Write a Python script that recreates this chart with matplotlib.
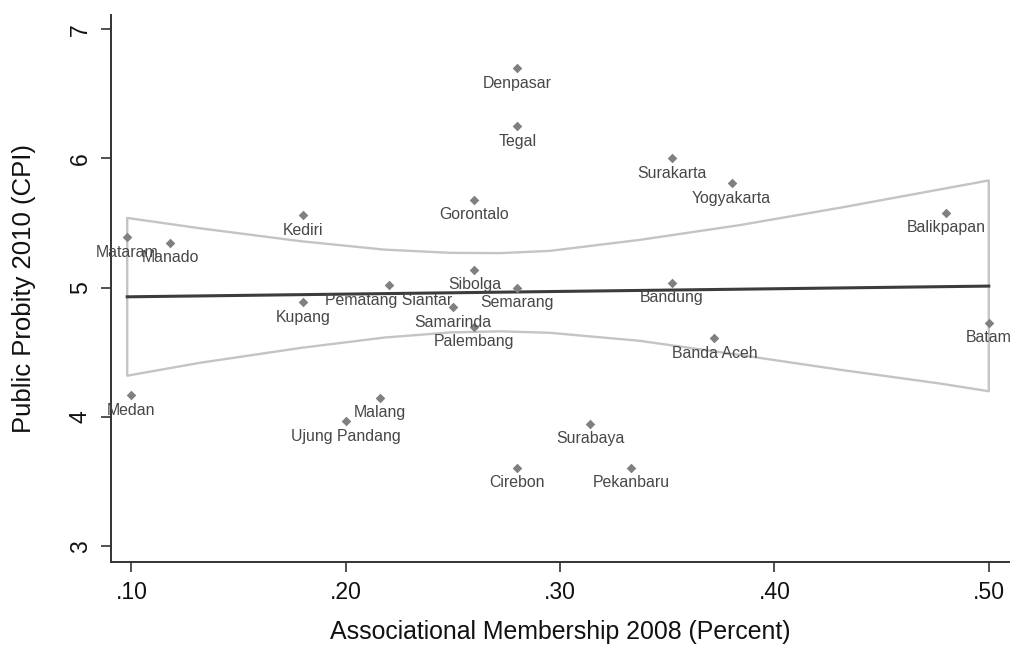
import numpy as np
import matplotlib
matplotlib.use("Agg")
import matplotlib.pyplot as plt

plt.rcParams["font.family"] = ["Liberation Sans", "DejaVu Sans"]

cities = ["Denpasar", "Tegal", "Surakarta", "Yogyakarta", "Gorontalo", "Kediri",
          "Balikpapan", "Mataram", "Manado", "Sibolga", "Bandung", "Pematang Siantar",
          "Semarang", "Kupang", "Samarinda", "Batam", "Palembang", "Banda Aceh",
          "Medan", "Malang", "Ujung Pandang", "Surabaya", "Cirebon", "Pekanbaru"]
membership = [0.280, 0.280, 0.352, 0.380, 0.260, 0.180,
              0.480, 0.098, 0.118, 0.260, 0.352, 0.220,
              0.280, 0.180, 0.250, 0.500, 0.260, 0.372,
              0.100, 0.216, 0.200, 0.314, 0.280, 0.333]
probity = [6.70, 6.25, 6.00, 5.81, 5.68, 5.56,
           5.58, 5.39, 5.35, 5.14, 5.04, 5.02,
           5.00, 4.89, 4.85, 4.73, 4.70, 4.61,
           4.17, 4.15, 3.97, 3.95, 3.61, 3.61]

# linear fit and its 95% confidence band
fit_x = [0.098, 0.500]
fit_y = [4.930, 5.013]
ci_x = [0.098, 0.132, 0.179, 0.218, 0.249, 0.272, 0.295, 0.337, 0.384, 0.431, 0.477, 0.500]
ci_upper = [5.54, 5.46, 5.36, 5.295, 5.27, 5.268, 5.285, 5.37, 5.485, 5.62, 5.76, 5.83]
ci_lower = [4.32, 4.42, 4.535, 4.615, 4.655, 4.663, 4.652, 4.59, 4.48, 4.365, 4.26, 4.20]

x_ticks = [0.10, 0.20, 0.30, 0.40, 0.50]
x_ticklabels = [".10", ".20", ".30", ".40", ".50"]
y_ticks = [3, 4, 5, 6, 7]

fig = plt.figure(figsize=(10.1, 6.49), dpi=100)
ax = fig.add_axes([0.1096, 0.134, 0.8904, 0.8428])

ax.fill_between(ci_x, ci_lower, ci_upper, facecolor="none", edgecolor="#c4c4c4",
                linewidth=1.7, zorder=1)
ax.plot(fit_x, fit_y, color="#3c3c3c", linewidth=2.2, zorder=2)
ax.scatter(membership, probity, marker="D", s=24, color="#808080", zorder=3, linewidths=0)
for c, xi, yi in zip(cities, membership, probity):
    ax.annotate(c, (xi, yi), xytext=(0, -5.5), textcoords="offset points",
                ha="center", va="top", fontsize=11.4, color="#474747", zorder=4)

ax.set_xlim(0.0903, 0.5099)
ax.set_ylim(2.879, 7.109)
ax.set_xticks(x_ticks)
ax.set_xticklabels(x_ticklabels)
ax.set_yticks(y_ticks)
ax.set_yticklabels([str(v) for v in y_ticks], rotation=90, va="center")
ax.tick_params(axis="both", length=7.5, width=1.2, labelsize=16.6, color="#333333",
               labelcolor="#111111", pad=6)
for side in ["top", "right"]:
    ax.spines[side].set_visible(False)
for side in ["left", "bottom"]:
    ax.spines[side].set_linewidth(1.4)
    ax.spines[side].set_color("#333333")
ax.set_xlabel("Associational Membership 2008 (Percent)", fontsize=17.9, color="#111111")
ax.set_ylabel("Public Probity 2010 (CPI)", fontsize=18.5, color="#111111")
ax.xaxis.set_label_coords(0.5 * (1010 - 110.7) / 899.3, -0.106)
ax.yaxis.set_label_coords(-0.0831, 0.5)

fig.savefig("out.png", dpi=100)
